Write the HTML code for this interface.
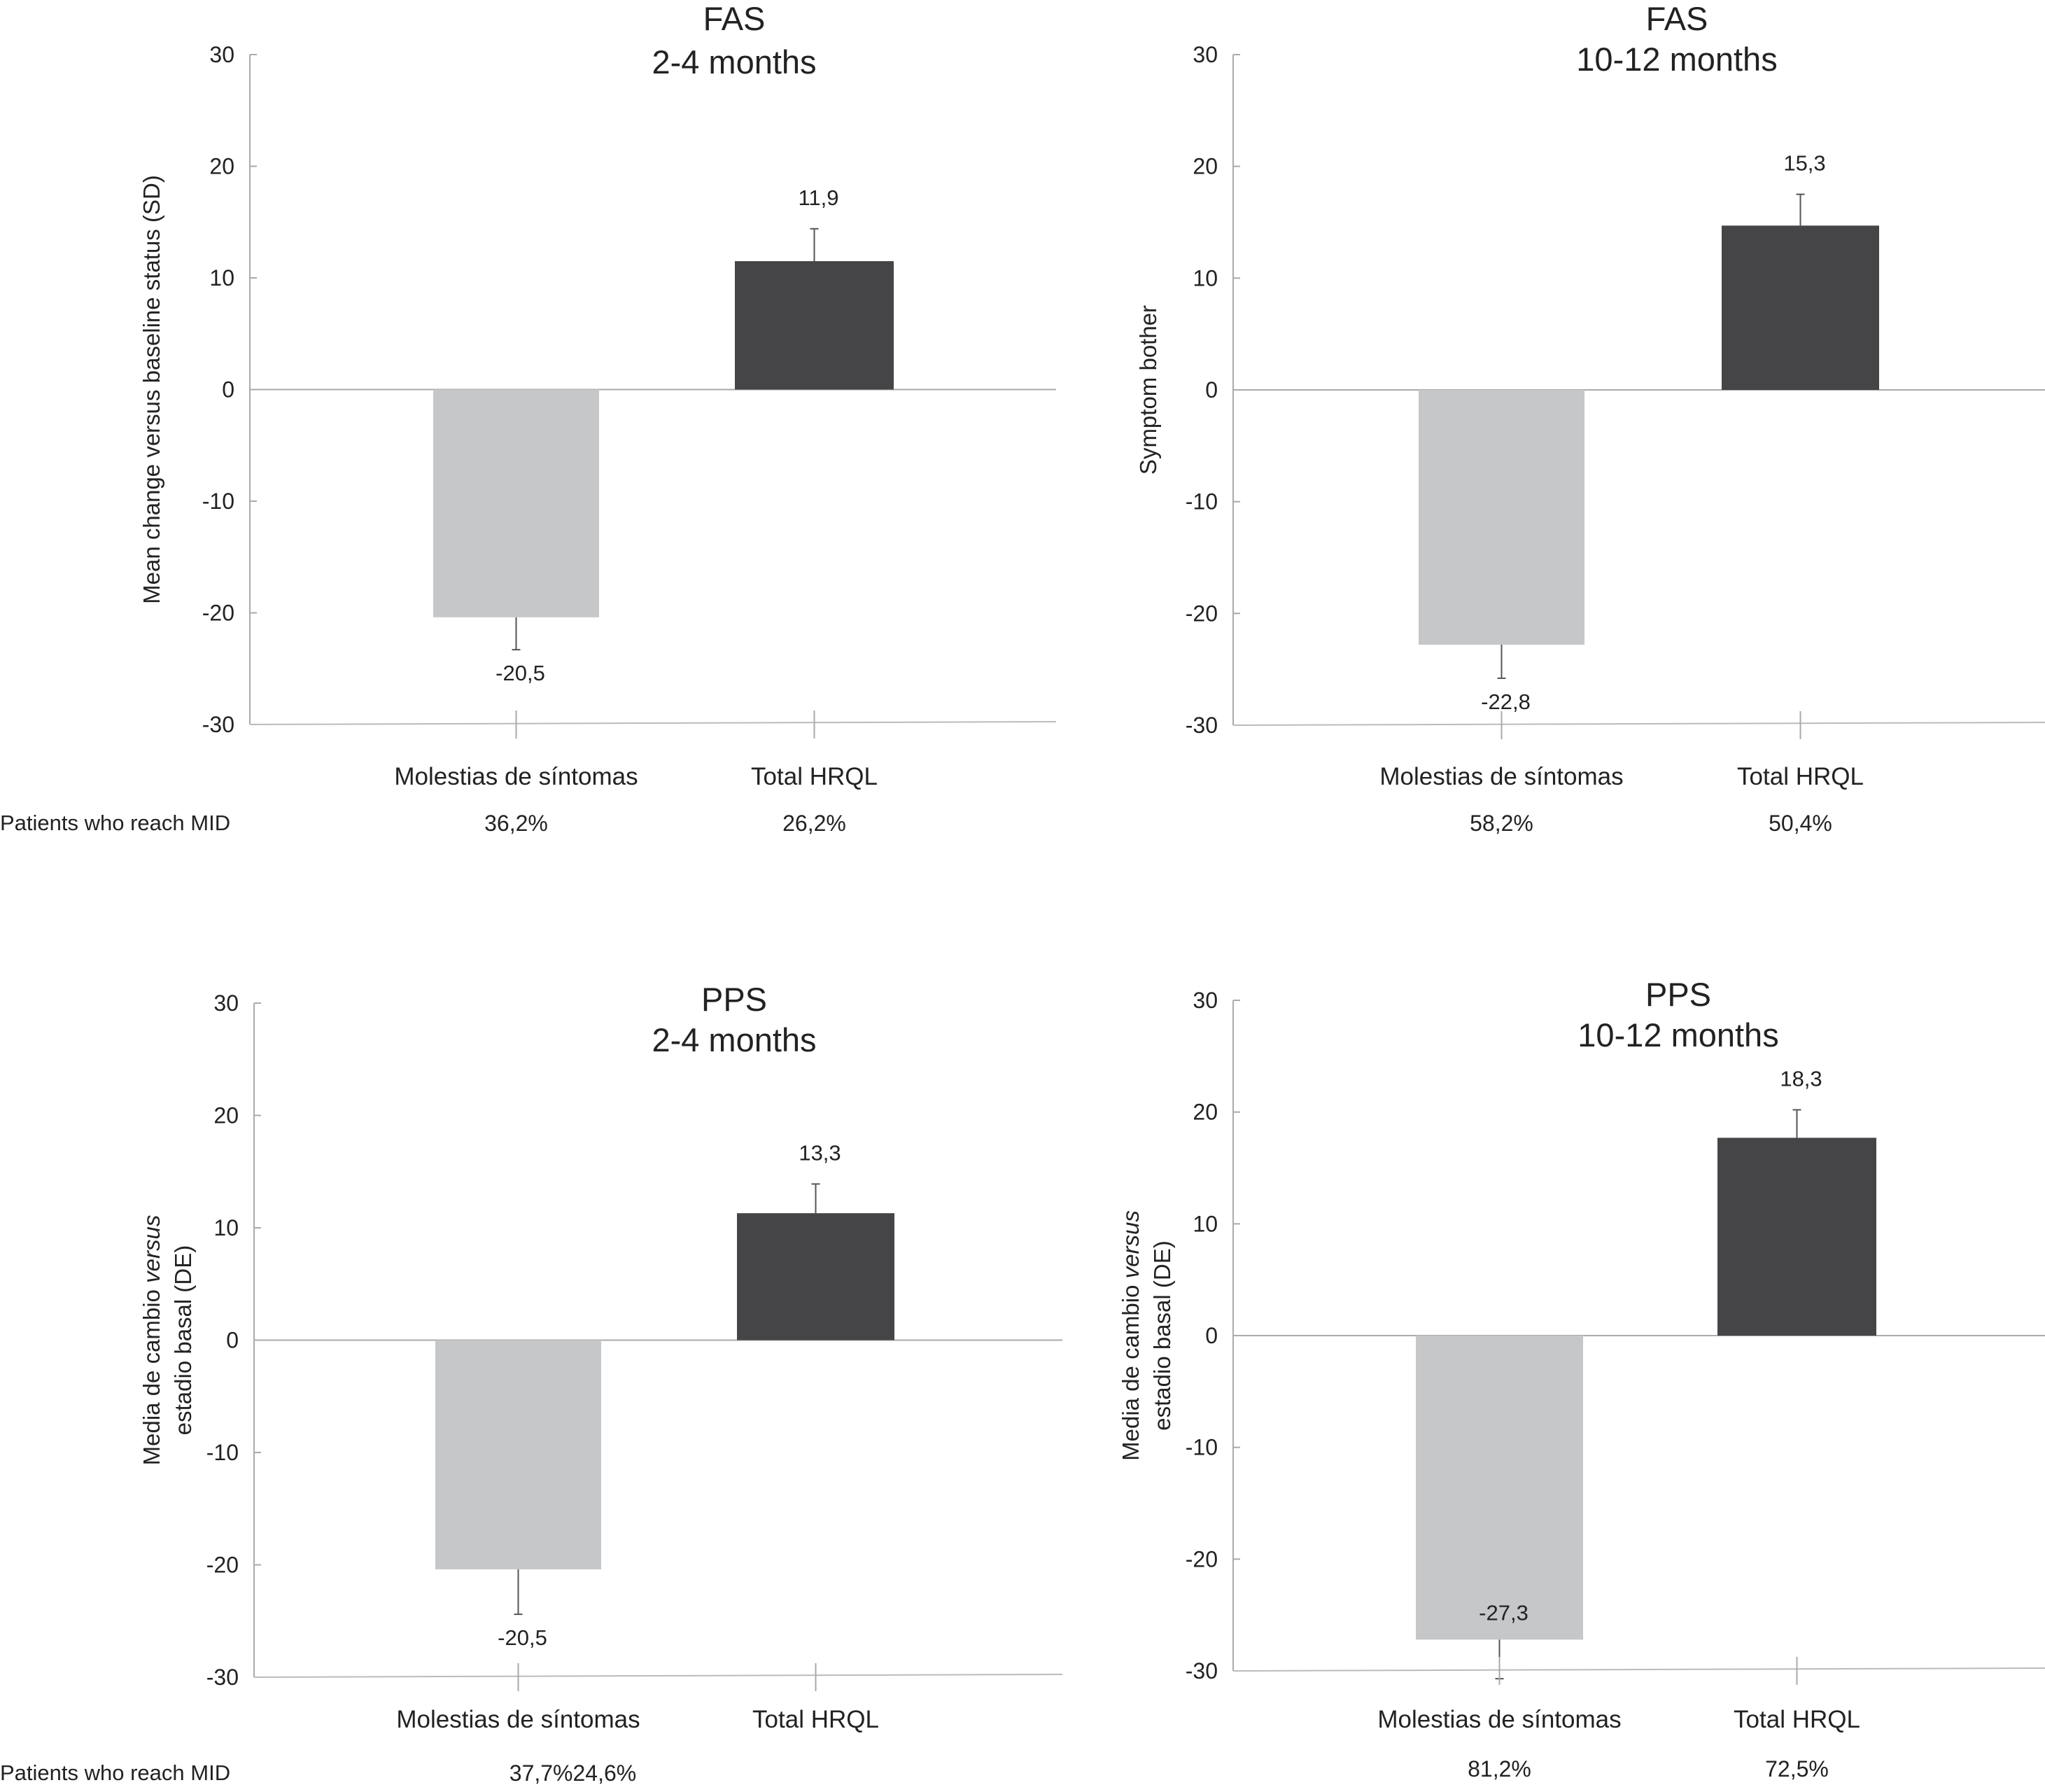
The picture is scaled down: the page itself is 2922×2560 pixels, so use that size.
<!DOCTYPE html>
<html><head><meta charset="utf-8"><style>
html,body{margin:0;padding:0;background:#fff;}
svg{display:block;font-family:"Liberation Sans",Arial,sans-serif;}
</style></head><body>
<svg id="chart" width="2922" height="2560" viewBox="0 0 2922 2560"></svg>
<script>
const categories = ["Molestias de síntomas", "Total HRQL"];
const panelTitles = ["FAS", "FAS", "PPS", "PPS"];
const panelPeriods = ["2-4 months", "10-12 months", "2-4 months", "10-12 months"];
const barValues = [[-20.4, 11.5], [-22.8, 14.7], [-20.4, 11.3], [-27.2, 17.7]];
const errorValues = [[2.9, 2.9], [3.0, 2.8], [4.0, 2.6], [3.5, 2.5]];
const valueLabels = [["-20,5", "11,9"], ["-22,8", "15,3"], ["-20,5", "13,3"], ["-27,3", "18,3"]];
const midLabels = [["36,2%", "26,2%"], ["58,2%", "50,4%"], ["37,7%24,6%", ""], ["81,2%", "72,5%"]];
const yTicks = [30, 20, 10, 0, -10, -20, -30];

const svg = document.getElementById('chart');
const NS = 'http://www.w3.org/2000/svg';
function mk(tag, attrs, parent) {
  const e = document.createElementNS(NS, tag);
  for (const k in attrs) e.setAttribute(k, attrs[k]);
  (parent || svg).appendChild(e);
  return e;
}
const layouts = [
  {ax: 357, top: 78, bot: 1035, bars: [[619, 856], [1050, 1277]], right: 1509, tx: 1049, t1: 26, t2: 88, catY: 1109, midY: 1176, ytx: 216, ytitle: ["Mean change versus baseline status (SD)"], showMid: true, italic: false},
  {ax: 1762, top: 78, bot: 1036, bars: [[2027, 2264], [2460, 2685]], right: 2922, tx: 2396, t1: 26, t2: 84, catY: 1109, midY: 1176, ytx: 1640, ytitle: ["Symptom bother"], showMid: false, italic: false},
  {ax: 363, top: 1433, bot: 2396, bars: [[622, 859], [1053, 1278]], right: 1518, tx: 1049, t1: 1427, t2: 1485, catY: 2456, midY: 2533, ytx: 216, ytitle: ["Media de cambio versus", "estadio basal (DE)"], showMid: true, italic: true},
  {ax: 1762, top: 1429, bot: 2387, bars: [[2023, 2262], [2454, 2681]], right: 2922, tx: 2398, t1: 1420, t2: 1478, catY: 2456, midY: 2527, ytx: 1615, ytitle: ["Media de cambio versus", "estadio basal (DE)"], showMid: false, italic: true}
];
const barColors = ["#c6c7c9", "#454547"];

layouts.forEach((L, p) => {
  const g = mk('g', {});
  
  
  const y = v => L.top + (30 - v) / 60 * (L.bot - L.top);
  const axis = mk('line', {x1: L.ax, y1: L.top, x2: L.ax, y2: L.bot, stroke: '#aaa', 'stroke-width': 2}, g);
  
  
  yTicks.forEach(t => {
    mk('line', {x1: L.ax, y1: y(t), x2: L.ax + 10, y2: y(t), stroke: '#aaa', 'stroke-width': 2}, g);
    const tl = mk('text', {x: L.ax - 22, y: y(t) + 11, 'text-anchor': 'end', 'font-size': 32, fill: '#222'}, g);
    tl.textContent = t;
    
    
  });
  const zl = mk('line', {x1: L.ax, y1: y(0), x2: L.right, y2: y(0), stroke: '#aaa', 'stroke-width': 2}, g);
  
  
  mk('line', {x1: L.ax, y1: y(-30), x2: L.right, y2: y(-30) - 4, stroke: '#bbb', 'stroke-width': 2}, g);
  const t1 = mk('text', {x: L.tx, y: L.t1 + 17, 'text-anchor': 'middle', 'font-size': 47, fill: '#222'}, g);
  t1.textContent = panelTitles[p];
  
  
  const t2 = mk('text', {x: L.tx, y: L.t2 + 17, 'text-anchor': 'middle', 'font-size': 47, fill: '#222'}, g);
  t2.textContent = panelPeriods[p];
  
  
  L.ytitle.forEach((s, i) => {
    const xx = L.ytx + i * 45;
    const cy = (L.top + L.bot) / 2;
    const tt = mk('text', {x: xx + 12, y: cy, 'text-anchor': 'middle', 'font-size': 33, fill: '#222', transform: `rotate(-90 ${xx + 12} ${cy})`}, g);
    if (L.italic && i === 0) {
      tt.innerHTML = 'Media de cambio <tspan font-style="italic">versus</tspan>';
    } else tt.textContent = s;
    
    
  });
  categories.forEach((c, i) => {
    const [x0, x1] = L.bars[i];
    const cx = (x0 + x1) / 2;
    const v = barValues[p][i];
    const e = errorValues[p][i];
    const r = mk('rect', {x: x0, y: Math.min(y(0), y(v)), width: x1 - x0, height: Math.abs(y(v) - y(0)), fill: barColors[i]}, g);
    
    
    const ev = v < 0 ? v - e : v + e;
    mk('line', {x1: cx, y1: y(v), x2: cx, y2: y(ev), stroke: '#555', 'stroke-width': 2}, g);
    mk('line', {x1: cx - 6, y1: y(ev), x2: cx + 6, y2: y(ev), stroke: '#555', 'stroke-width': 2}, g);
    let ly;
    if (v >= 0) ly = y(ev) - 34;
    else if (ev < -28) ly = y(v) - 28;
    else ly = y(ev) + 44;
    const vl = mk('text', {x: cx + 6, y: ly, 'text-anchor': 'middle', 'font-size': 31, fill: '#222'}, g);
    vl.textContent = valueLabels[p][i];
    
    
    mk('line', {x1: cx, y1: y(-30) - 20, x2: cx, y2: y(-30) + 20, stroke: '#aaa', 'stroke-width': 2}, g);
    const cl = mk('text', {x: cx, y: L.catY + 12, 'text-anchor': 'middle', 'font-size': 35, fill: '#222'}, g);
    cl.textContent = c;
    
    
    if (midLabels[p][i]) {
      const ml = mk('text', {x: midLabels[p][i].length > 6 ? cx + 78 : cx, y: L.midY + 11, 'text-anchor': 'middle', 'font-size': 32, fill: '#222'}, g);
      ml.textContent = midLabels[p][i];
      
      
    }
  });
  if (L.showMid) {
    const pm = mk('text', {x: 0, y: L.midY + 10, 'font-size': 31, fill: '#222'}, g);
    pm.textContent = 'Patients who reach MID';
    
    
  }
});
</script>
</body></html>
